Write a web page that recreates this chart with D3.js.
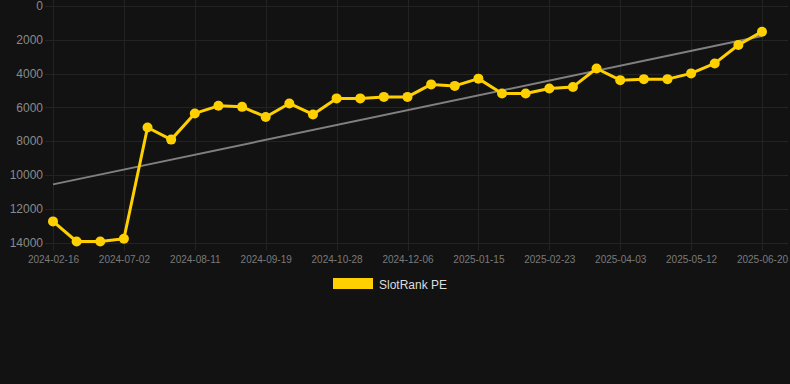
<!DOCTYPE html>
<html>
<head>
<meta charset="utf-8">
<script src="https://cdn.jsdelivr.net/npm/d3@7/dist/d3.min.js"></script>
<style>
html,body{margin:0;padding:0;background:#121212;}
svg{display:block;}
</style>
</head>
<body>
<svg id="chart" width="790" height="384"></svg>
<script>
const categories = [
  "2024-02-16","2024-03-30","2024-05-15","2024-07-02","2024-07-15","2024-07-28",
  "2024-08-11","2024-08-24","2024-09-06","2024-09-19","2024-10-02","2024-10-15",
  "2024-10-28","2024-11-10","2024-11-23","2024-12-06","2024-12-19","2025-01-02",
  "2025-01-15","2025-01-28","2025-02-10","2025-02-23","2025-03-08","2025-03-21",
  "2025-04-03","2025-04-16","2025-04-29","2025-05-12","2025-05-25","2025-06-07",
  "2025-06-20"
];
const rankValues = [
  12750, 13940, 13940, 13780, 7190, 7910,
  6360, 5910, 5970, 6570, 5770, 6420,
  5470, 5470, 5380, 5380, 4640, 4730,
  4300, 5180, 5180, 4880, 4790, 3700,
  4390, 4330, 4330, 3990, 3400, 2310,
  1520
];
const trendValues = [10560, 1780];
const yTicks = [0, 2000, 4000, 6000, 8000, 10000, 12000, 14000];
const seriesName = "SlotRank PE";

const svg = d3.select("#chart");
const W = 790, H = 384;
svg.append("rect").attr("width", W).attr("height", H).attr("fill", "#121212");

const plotLeft = 53, plotRight = 788, plotTop = 6, plotBottom = 242.5;
const x = d3.scalePoint().domain(categories).range([53, 762]);
const y = d3.scaleLinear().domain([0, 14000]).range([plotTop, plotBottom]);

const gridColor = "#232323";
const yAxis = d3.axisLeft(y).tickValues(yTicks).tickSize(0).tickPadding(0).tickFormat(d => String(d));
const gy = svg.append("g").attr("transform", `translate(${plotLeft - 10},0)`).call(yAxis);
gy.select(".domain").remove();
gy.selectAll("text").attr("fill", "#8a8a8a").attr("font-family", "Liberation Sans, Arial, sans-serif").attr("font-size", 12);

svg.append("g").selectAll("line").data(yTicks).join("line")
  .attr("x1", plotLeft - 8).attr("x2", plotRight)
  .attr("y1", d => Math.round(y(d)) + 0.5).attr("y2", d => Math.round(y(d)) + 0.5)
  .attr("stroke", gridColor).attr("stroke-width", 1);

const xTickCats = categories.filter((d, i) => i % 3 === 0);
svg.append("g").selectAll("line").data(xTickCats).join("line")
  .attr("x1", d => Math.round(x(d)) + 0.5).attr("x2", d => Math.round(x(d)) + 0.5)
  .attr("y1", 0).attr("y2", plotBottom + 8)
  .attr("stroke", gridColor).attr("stroke-width", 1);

const xAxis = d3.axisBottom(x).tickValues(xTickCats).tickSize(0).tickPadding(0);
const gx = svg.append("g").attr("transform", `translate(0,${plotBottom + 13.5})`).call(xAxis);
gx.select(".domain").remove();
gx.selectAll("text").attr("fill", "#7a7a7a").attr("font-family", "Liberation Sans, Arial, sans-serif").attr("font-size", 10);

svg.append("line")
  .attr("x1", x(categories[0])).attr("y1", y(trendValues[0]))
  .attr("x2", x(categories[categories.length - 1])).attr("y2", y(trendValues[1]))
  .attr("stroke", "#808080").attr("stroke-width", 2);

const lineColor = "#FFD000";
const line = d3.line().x((d, i) => x(categories[i])).y(d => y(d));
svg.append("path").datum(rankValues).attr("d", line)
  .attr("fill", "none").attr("stroke", lineColor).attr("stroke-width", 3).attr("stroke-linejoin", "round");

svg.append("g").selectAll("circle").data(rankValues).join("circle")
  .attr("cx", (d, i) => x(categories[i])).attr("cy", d => y(d)).attr("r", 5)
  .attr("fill", lineColor);

const lg = svg.append("g");
lg.append("rect").attr("x", 333).attr("y", 278).attr("width", 40).attr("height", 11).attr("fill", lineColor);
lg.append("text").attr("x", 379).attr("y", 288.5).text(seriesName)
  .attr("fill", "#dddddd").attr("font-family", "Liberation Sans, Arial, sans-serif").attr("font-size", 12);
</script>
</body>
</html>
